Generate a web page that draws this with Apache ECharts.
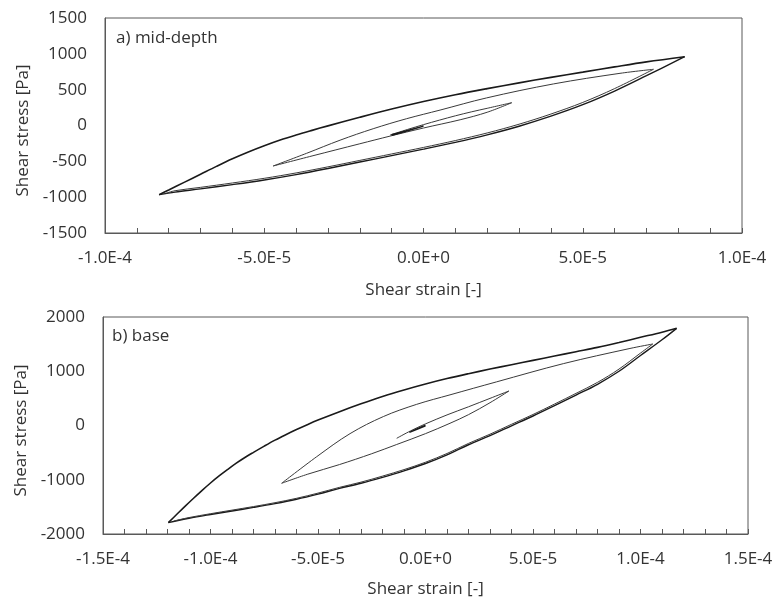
<!DOCTYPE html>
<html><head><meta charset="utf-8">
<script src="https://cdn.jsdelivr.net/npm/echarts@6/dist/echarts.min.js"></script>
<style>html,body{margin:0;padding:0;background:#fff}#c{width:777px;height:604px}</style>
</head><body><div id="c"></div>
<script>
// ---------- a) mid-depth ----------
const aOuterUp = [[-8.3e-5,-965],[-8.0e-5,-900],[-7.5e-5,-790],[-7.0e-5,-680],[-6.5e-5,-570],[-6.0e-5,-465],[-5.5e-5,-370],[-5.0e-5,-283],[-4.5e-5,-203],[-4.0e-5,-133],[-3.5e-5,-68],[-3.0e-5,-5],[-2.0e-5,115],[-1.0e-5,230],[0,335],[1e-5,430],[2e-5,515],[3e-5,595],[4e-5,672],[5e-5,745],[6e-5,818],[7e-5,888],[8.2e-5,960]];
const aOuterLow = [[-8.3e-5,-965],[-7.8e-5,-930],[-7.0e-5,-885],[-6.0e-5,-825],[-5.0e-5,-760],[-4.0e-5,-685],[-3.0e-5,-600],[-2.0e-5,-510],[-1.0e-5,-420],[0,-330],[1e-5,-235],[2e-5,-130],[3e-5,-10],[4e-5,130],[5e-5,290],[6e-5,480],[7e-5,695],[8.2e-5,960]];
const aBundle = [[-8.1e-5,-948],[-7.8e-5,-910],[-7.0e-5,-863],[-6.0e-5,-802],[-5.0e-5,-737],[-4.0e-5,-662],[-3.0e-5,-577],[-2.0e-5,-487],[-1.0e-5,-397],[0,-306],[1e-5,-210],[2e-5,-104],[3e-5,18],[4e-5,160],[5e-5,322],[6e-5,515],[7.22e-5,784]];
const aMedUp = [[-4.72e-5,-565],[-3.67e-5,-388],[-2.62e-5,-205],[-1.58e-5,-45],[-5.3e-6,95],[5.2e-6,215],[1.98e-5,385],[4.08e-5,580],[6.17e-5,728],[7.22e-5,784]];
const aMedLow = [[-4.72e-5,-565],[-3.5e-5,-425],[-2.0e-5,-255],[-1.05e-5,-148],[0,-35],[1.15e-5,80],[2.0e-5,185],[2.77e-5,318]];
const aSmallUp = [[-1.05e-5,-133],[-5e-6,-55],[0,12],[5e-6,75],[1e-5,135],[1.5e-5,190],[2e-5,240],[2.77e-5,318]];
const aTiny = [[-1.0e-5,-128],[-5e-6,-68],[0,-8],[-5e-6,-75],[-1.0e-5,-138]];

// ---------- b) base ----------
const bOuterUp = [[-1.196e-4,-1791],[-1.16e-4,-1650],[-1.12e-4,-1495],[-1.08e-4,-1345],[-1.04e-4,-1200],[-1.0e-4,-1060],[-9.6e-5,-930],[-9.2e-5,-810],[-8.8e-5,-695],[-8.4e-5,-590],[-8.0e-5,-495],[-7.5e-5,-380],[-7.0e-5,-270],[-6.5e-5,-170],[-6.0e-5,-75],[-5.5e-5,15],[-5.0e-5,100],[-4.0e-5,255],[-3.0e-5,400],[-2.0e-5,535],[-1.0e-5,655],[0,765],[1e-5,865],[2e-5,955],[3e-5,1040],[4e-5,1120],[5e-5,1200],[6e-5,1280],[7e-5,1360],[8e-5,1440],[9e-5,1530],[1e-4,1625],[1.1e-4,1720],[1.168e-4,1791]];
const bOuterLow = [[-1.196e-4,-1791],[-1.1e-4,-1710],[-1.0e-4,-1640],[-9e-5,-1575],[-8e-5,-1510],[-7e-5,-1440],[-6e-5,-1360],[-5e-5,-1265],[-4e-5,-1160],[-3e-5,-1065],[-2e-5,-955],[-1e-5,-835],[0,-700],[1e-5,-540],[2e-5,-355],[3e-5,-185],[4e-5,-5],[5e-5,175],[6e-5,365],[7e-5,560],[8e-5,760],[9e-5,1000],[1e-4,1290],[1.1e-4,1580],[1.168e-4,1791]];
const bBundle = [[-1.17e-4,-1760],[-1.1e-4,-1697],[-1.0e-4,-1626],[-9e-5,-1560],[-8e-5,-1494],[-7e-5,-1423],[-6e-5,-1342],[-5e-5,-1246],[-4e-5,-1140],[-3e-5,-1044],[-2e-5,-933],[-1e-5,-813],[0,-677],[1e-5,-516],[2e-5,-330],[3e-5,-160],[4e-5,22],[5e-5,203],[6e-5,395],[7e-5,592],[8e-5,795],[9e-5,1040],[1e-4,1335],[1.057e-4,1502]];
const bMedUp = [[-6.69e-5,-1065],[-5.06e-5,-575],[-3.51e-5,-150],[-1.96e-5,165],[-4.1e-6,390],[1.14e-5,565],[3.31e-5,805],[6.41e-5,1140],[9.51e-5,1420],[1.057e-4,1502]];
const bMedLow = [[-6.69e-5,-1065],[-5.5e-5,-900],[-4e-5,-720],[-2.5e-5,-520],[-1.34e-5,-350],[0,-150],[1.14e-5,41],[2.0e-5,200],[3.0e-5,420],[3.88e-5,636]];
const bSmallUp = [[-1.34e-5,-236],[-7e-6,-100],[0,30],[1e-5,195],[2e-5,345],[3e-5,500],[3.88e-5,636]];
const bTiny = [[0,5],[-4e-6,-62],[-7.5e-6,-128],[-4e-6,-72],[0,-5]];

// axes
const aX = {min:-1e-4, max:1e-4, step:1e-5};
const aY = {min:-1500, max:1500, step:500};
const bX = {min:-1.5e-4, max:1.5e-4, step:1e-5};
const bY = {min:-2000, max:2000, step:1000};
const labelStep = 5e-5;

const FONT = '"Open Sans", "DejaVu Sans", sans-serif';
const FRAME = '#595959';
const TXT = '#333';

function fmtSci(v){
  if (Math.abs(v) < 1e-12) return '0.0E+0';
  const k = v / labelStep;
  if (Math.abs(k - Math.round(k)) > 1e-6) return '';
  let e = Math.floor(Math.log10(Math.abs(v)) + 1e-9);
  let m = v / Math.pow(10, e);
  return m.toFixed(1) + 'E' + (e < 0 ? '-' : '+') + Math.abs(e);
}

function xAxisDef(g, r, gap){
  return {type:'value', gridIndex:g, min:r.min, max:r.max, interval:r.step,
    axisLine:{show:true, onZero:false, lineStyle:{color:FRAME, width:1}},
    axisTick:{show:true, inside:true, length:5, lineStyle:{color:FRAME}},
    axisLabel:{formatter:fmtSci, fontSize:17, color:TXT, margin:17, fontFamily:FONT, showMinLabel:true, showMaxLabel:true},
    splitLine:{show:false},
    name:'Shear strain [-]', nameLocation:'middle', nameGap:gap,
    nameTextStyle:{fontSize:17, color:TXT, fontFamily:FONT}};
}
function yAxisDef(g, r){
  return {type:'value', gridIndex:g, min:r.min, max:r.max, interval:r.step,
    axisLine:{show:true, onZero:false, lineStyle:{color:FRAME, width:1}},
    axisTick:{show:false},
    axisLabel:{fontSize:17, color:TXT, margin:18, fontFamily:FONT, formatter:function(v){return String(v);}},
    splitLine:{show:false},
    name:'Shear stress [Pa]', nameLocation:'middle', nameGap:68, nameRotate:90,
    nameTextStyle:{fontSize:17, color:TXT, fontFamily:FONT, padding:[0,10,0,0]}};
}
function ser(g, data, w, c){
  return {type:'line', xAxisIndex:g, yAxisIndex:g, data:data, symbol:'none', smooth:0.35,
    lineStyle:{width:w, color:c}, silent:true, animation:false, z:3};
}
const THICK = '#1a1a1a', THIN = '#3a3a3a';

const chart = echarts.init(document.getElementById('c'), null, {renderer:'canvas'});
chart.setOption({
  backgroundColor:'#fff',
  animation:false,
  grid:[
    {left:105, right:35, top:18, height:215, show:true, borderColor:FRAME, borderWidth:1},
    {left:103, right:29, top:317, height:217, show:true, borderColor:FRAME, borderWidth:1}
  ],
  xAxis:[xAxisDef(0, aX, 49), xAxisDef(1, bX, 47)],
  yAxis:[yAxisDef(0, aY), yAxisDef(1, bY)],
  graphic:[
    {type:'text', x:116, y:38, style:{text:'a) mid-depth', font:'17px ' + FONT, fill:TXT, verticalAlign:'middle'}},
    {type:'text', x:112, y:336, style:{text:'b) base', font:'17px ' + FONT, fill:TXT, verticalAlign:'middle'}}
  ],
  series:[
    ser(0, aOuterUp, 1.6, THICK), ser(0, aOuterLow, 1.4, THICK), ser(0, aBundle, 1, THIN),
    ser(0, aMedUp, 1, THIN), ser(0, aMedLow, 1, THIN), ser(0, aSmallUp, 1, THIN),
    {type:'line', xAxisIndex:0, yAxisIndex:0, data:aTiny, symbol:'none', lineStyle:{width:1.4, color:THICK}, silent:true},
    ser(1, bOuterUp, 1.6, THICK), ser(1, bOuterLow, 1.4, THICK), ser(1, bBundle, 1, THIN),
    ser(1, bMedUp, 1, THIN), ser(1, bMedLow, 1, THIN), ser(1, bSmallUp, 1, THIN),
    {type:'line', xAxisIndex:1, yAxisIndex:1, data:bTiny, symbol:'none', lineStyle:{width:1.4, color:THICK}, silent:true}
  ]
});
</script></body></html>
